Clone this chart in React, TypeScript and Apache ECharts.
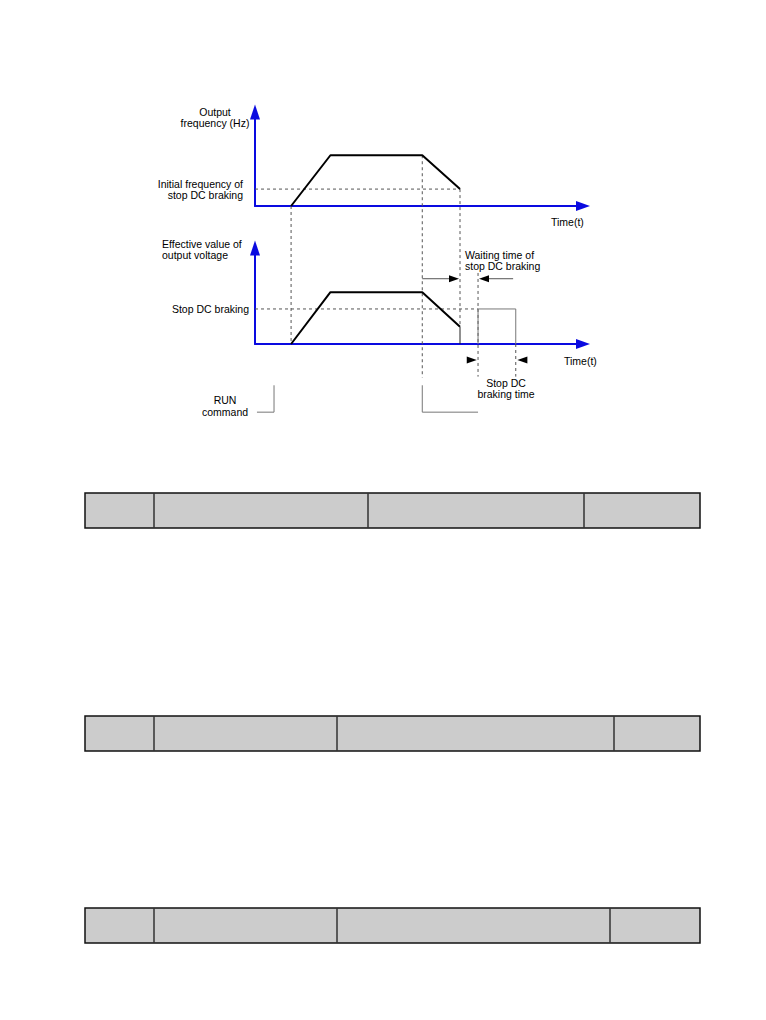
import React, { useEffect, useRef } from "react";
import * as echarts from "echarts";

// ---------- data (time on a 0–100 scale, levels on a 0–100 scale) ----------
const frequencyCurve: [number, number][] = [[11, 0], [23, 54], [51, 54], [62.5, 18]];
const voltageCurve: [number, number][] = [[11, 0], [23, 54], [51, 54], [62.5, 18]];
const voltageDrop: [number, number][] = [[62.5, 18], [62.5, 0]];
const brakingPulse: [number, number][] = [[68, 0], [68, 36.5], [79.5, 36.5], [79.5, 0]];
const frequencyThreshold: [number, number][] = [[0, 18], [62.5, 18]];
const voltageThreshold: [number, number][] = [[0, 36.5], [68, 36.5]];

// guide lines: time, [panel, level] at top, [panel, level] at bottom
const guideTimes = [11, 51, 62.5, 68, 79.5];
const guideTops: [number, number][] = [[0, 0], [0, 54], [0, 18], [1, 74], [1, 0]];
const guideBottoms: [number, number][] = [[1, 0], [1, -35], [1, 18], [1, -34], [1, -34]];

// waiting-time arrows (panel 2): [tail, tip]
const waitingLevel = 68;
const waitingArrows: [number, number][] = [[51, 62.2], [78.7, 68.3]];
// braking-time arrow heads (panel 2): [tip, direction]
const brakingLevel = -16.7;
const brakingHeads: [number, number][] = [[67.6, 1], [80, -1]];
// RUN command signal (panel 2)
const runSignals: [number, number][][] = [
  [[0.6, -71], [5.8, -71], [5.8, -43]],
  [[51, -43], [51, -71], [68, -71]],
];

// tables: column boundaries and vertical extent
const tableColumns = [
  [85, 154, 368, 584, 700],
  [85, 154, 337, 614, 700],
  [85, 154, 337, 610, 700],
];
const tableRows: [number, number][] = [[493, 528], [716, 751], [908, 943]];

const FONT = '10.5px "Liberation Sans", Arial, sans-serif';
const BLUE = "#0a0ae0";

export default function App() {
  const ref = useRef<HTMLDivElement>(null);
  useEffect(() => {
    if (!ref.current) return;
    const chart = echarts.init(ref.current, null, { renderer: "svg" });

    const axisCommon = {
      min: 0,
      max: 100,
      type: "value" as const,
      axisTick: { show: false },
      axisLabel: { show: false },
      splitLine: { show: false },
    };
    const mkX = (g: number) => ({
      ...axisCommon,
      gridIndex: g,
      axisLine: {
        show: true,
        onZero: false,
        symbol: ["none", "triangle"],
        symbolSize: [10, 14],
        lineStyle: { color: BLUE, width: 2 },
      },
    });
    const mkY = (g: number) => ({
      ...axisCommon,
      gridIndex: g,
      axisLine: {
        show: true,
        onZero: false,
        symbol: ["none", "triangle"],
        symbolSize: [10, 15],
        lineStyle: { color: BLUE, width: 2 },
      },
    });
    const line = (g: number, data: [number, number][], color: string, width: number, dashed = false) => ({
      type: "line",
      xAxisIndex: g,
      yAxisIndex: g,
      data,
      symbol: "none",
      showSymbol: false,
      silent: true,
      z: dashed ? 1 : 3,
      lineStyle: { color, width, type: dashed ? [3, 3] : "solid" },
    });

    chart.setOption({
      animation: false,
      backgroundColor: "#ffffff",
      grid: [
        { left: 255, top: 112, width: 328, height: 94, outerBoundsMode: "none" },
        { left: 255, top: 248, width: 328, height: 96, outerBoundsMode: "none" },
      ],
      xAxis: [mkX(0), mkX(1)],
      yAxis: [mkY(0), mkY(1)],
      series: [
        line(0, frequencyThreshold, "#555", 1, true),
        line(1, voltageThreshold, "#555", 1, true),
        line(0, frequencyCurve, "#000", 2),
        line(1, voltageCurve, "#000", 2),
        line(1, voltageDrop, "#222", 1),
        line(1, brakingPulse, "#777", 1),
      ],
    });

    const px = (g: number, t: number, v: number) =>
      chart.convertToPixel({ gridIndex: g } as any, [t, v]) as number[];

    const graphics: any[] = [];
    // guide lines
    guideTimes.forEach((t, i) => {
      const a = px(guideTops[i][0], t, guideTops[i][1]);
      const b = px(guideBottoms[i][0], t, guideBottoms[i][1]);
      graphics.push({
        type: "line",
        silent: true,
        shape: { x1: a[0], y1: a[1], x2: b[0], y2: b[1] },
        style: { stroke: "#555", lineWidth: 1, lineDash: [3, 3] },
        z: 1,
      });
    });
    const head = (tipX: number, y: number, dir: number) => ({
      type: "polygon",
      silent: true,
      shape: { points: [[tipX, y], [tipX - dir * 10, y - 3.5], [tipX - dir * 10, y + 3.5]] },
      style: { fill: "#000" },
      z: 5,
    });
    // waiting-time arrows
    waitingArrows.forEach(([tail, tip]) => {
      const a = px(1, tail, waitingLevel);
      const b = px(1, tip, waitingLevel);
      const dir = b[0] > a[0] ? 1 : -1;
      graphics.push({
        type: "line",
        silent: true,
        shape: { x1: a[0], y1: a[1], x2: b[0] - dir * 9, y2: b[1] },
        style: { stroke: "#555", lineWidth: 1 },
      });
      graphics.push(head(b[0], b[1], dir));
    });
    brakingHeads.forEach(([tip, dir]) => {
      const b = px(1, tip, brakingLevel);
      graphics.push(head(b[0], b[1], dir));
    });
    runSignals.forEach((pts) => {
      graphics.push({
        type: "polyline",
        silent: true,
        shape: { points: pts.map(([t, v]) => px(1, t, v)) },
        style: { stroke: "#777", lineWidth: 1, fill: null },
      });
    });

    const text = (s: string, x: number, y: number, align: string) => ({
      type: "text",
      silent: true,
      x,
      y,
      style: { text: s, font: FONT, fill: "#000", align, verticalAlign: "middle", lineHeight: 11.5 },
      z: 6,
    });
    graphics.push(
      text("Output\nfrequency (Hz)", 215, 117.5, "center"),
      text("Initial frequency of\nstop DC braking", 243, 189.5, "right"),
      text("Time(t)", 551, 222, "left"),
      text("Effective value of\noutput voltage", 162, 249.5, "left"),
      text("Stop DC braking", 249, 309, "right"),
      text("Waiting time of\nstop DC braking", 465, 260.5, "left"),
      text("Time(t)", 564, 361, "left"),
      text("Stop DC\nbraking time", 506, 388.5, "center"),
      text("RUN\ncommand", 225, 406, "center")
    );

    // tables
    tableColumns.forEach((cols, i) => {
      const [y0, y1] = tableRows[i];
      const x0 = cols[0];
      const x1 = cols[cols.length - 1];
      graphics.push({
        type: "rect",
        silent: true,
        shape: { x: x0, y: y0, width: x1 - x0, height: y1 - y0 },
        style: { fill: "#cccccc", stroke: "#111", lineWidth: 1.5 },
      });
      cols.slice(1, -1).forEach((cx) => {
        graphics.push({
          type: "line",
          silent: true,
          shape: { x1: cx, y1: y0, x2: cx, y2: y1 },
          style: { stroke: "#333", lineWidth: 1.5 },
        });
      });
    });

    chart.setOption({ graphic: graphics });
    return () => chart.dispose();
  }, []);

  return (
    <div
      ref={ref}
      style={{ position: "absolute", left: 0, top: 0, width: 766, height: 1020, background: "#fff" }}
    />
  );
}
